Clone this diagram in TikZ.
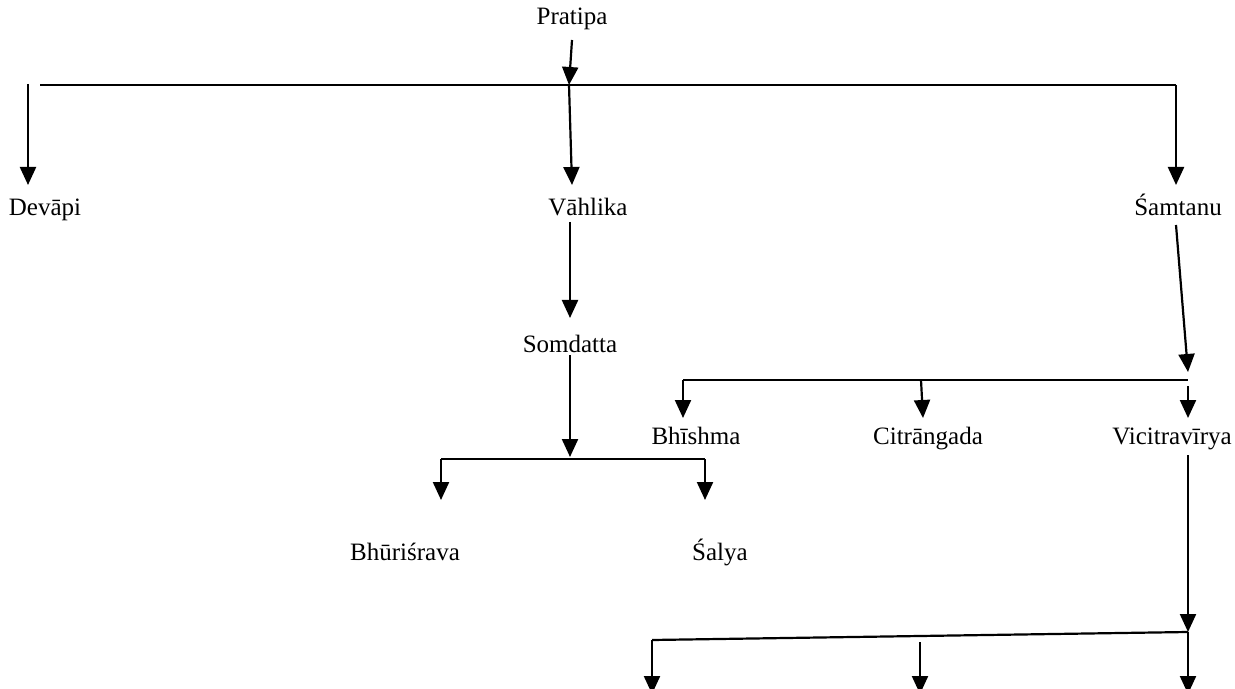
\documentclass[tikz,border=0pt]{standalone}
\usepackage{fontspec}
\setmainfont{Liberation Serif}
\usetikzlibrary{arrows.meta}

\begin{document}
\begin{tikzpicture}[x=0.5pt,y=-0.5pt,line width=1.1pt,>={Triangle[length=9pt,width=8pt]},
  person/.style={inner sep=0pt,anchor=base,font=\fontsize{12.5}{14}\selectfont}]
\useasboundingbox (0,0) rectangle (1235,689);
% names
\node [person] (pratipa) at (572,25) {Pratipa};
\node [person] (devapi) at (45,216) {Devāpi};
\node [person] (vahlika) at (588,216) {Vāhlika};
\node [person] (samtanu) at (1178,216) {Śamtanu};
\node [person] (somdatta) at (570,352) {Somdatta};
\node [person] (bhurisrava) at (405,560) {Bhūriśrava};
\node [person] (salya) at (720,560) {Śalya};
\node [person] (bhishma) at (696,444) {Bhīshma};
\node [person] (citrangada) at (928,444) {Citrāngada};
\node [person] (vicitra) at (1172,444) {Vicitravīrya};
% joints
\coordinate (pr) at (572,40); \coordinate (pb) at (569,85);
\coordinate (pl) at (40,85); \coordinate (prr) at (1176,85);
\coordinate (d1) at (28,84); \coordinate (d2) at (28,185);
\coordinate (v2) at (572,185);
\coordinate (s2) at (1176,185);
\coordinate (v3) at (570,222); \coordinate (v4) at (570,318);
\coordinate (so1) at (570,355); \coordinate (so2) at (570,457);
\coordinate (bl) at (441,459); \coordinate (br) at (705,459);
\coordinate (bl2) at (441,500); \coordinate (br2) at (705,500);
\coordinate (sa1) at (1176,225); \coordinate (sa2) at (1188,372);
\coordinate (cl) at (683,380); \coordinate (cm) at (921,380); \coordinate (cr) at (1188,380);
\coordinate (cr1) at (1188,386);
\coordinate (cl2) at (683,418); \coordinate (cm2) at (923,418); \coordinate (cr2) at (1188,418);
\coordinate (vi1) at (1188,455); \coordinate (vi2) at (1188,632);
\coordinate (el) at (652,640); \coordinate (em) at (920,642); \coordinate (er) at (1188,632);
\coordinate (el2) at (652,694); \coordinate (em2) at (920,694); \coordinate (er2) at (1188,694);
% Pratipa
\draw [->] (pr) -- (pb);
\draw (pl) -- (prr);
\draw [->] (d1) -- (d2);
\draw [->] (pb) -- (v2);
\draw [->] (prr) -- (s2);
% Vahlika
\draw [->] (v3) -- (v4);
\draw [->] (so1) -- (so2);
\draw (bl) -- (br);
\draw [->] (bl) -- (bl2);
\draw [->] (br) -- (br2);
% Samtanu
\draw [->] (sa1) -- (sa2);
\draw (cl) -- (cr);
\draw [->] (cl) -- (cl2);
\draw [->] (cm) -- (cm2);
\draw [->] (cr1) -- (cr2);
% Vicitravirya
\draw [->] (vi1) -- (vi2);
\draw (el) -- (er);
\draw [->] (el) -- (el2);
\draw [->] (em) -- (em2);
\draw [->] (er) -- (er2);
\end{tikzpicture}
\end{document}
